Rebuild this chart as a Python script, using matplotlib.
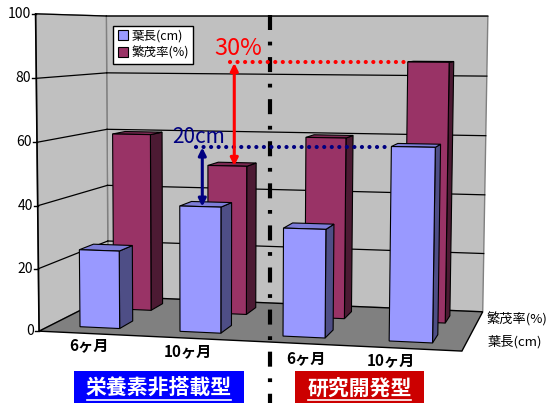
import numpy as np
import matplotlib.pyplot as plt
from matplotlib.patches import Polygon, Rectangle
from matplotlib.lines import Line2D

plt.rcParams['font.family'] = ['Noto Sans CJK JP', 'DejaVu Sans']

categories = ['6ヶ月', '10ヶ月', '6ヶ月', '10ヶ月']
series_names = ['葉長(cm)', '繁茂率(%)']
leaf_length = [25, 40, 34, 60]
growth_rate = [60, 50, 60, 85]
y_ticks = [0, 20, 40, 60, 80, 100]
groups = ['栄養素非搭載型', '研究開発型']

# the 3D box (x 0..4, depth 0..2, value 0..100) and where its corners sit on screen
box_world = np.array([[0, 0, 0], [0, 0, 100], [0, 2, 0], [0, 2, 100],
                      [4, 0, 0], [4, 0, 100], [4, 2, 0], [4, 2, 100]], float)
box_screen = np.array([[39, 328], [34, 15], [108, 299], [108, 15],
                       [463, 352], [468, 15], [482, 311], [487, 15]], float)
# where Excel put the category labels under the floor
cat_label_pos = [(89, 345), (188, 351), (306, 358), (391, 360)]


def fit_camera(world, screen):
    w = world / [4, 2, 100]
    s = screen / 550
    rows = []
    for (X, Y, Z), (u, v) in zip(w, s):
        rows.append([X, Y, Z, 1, 0, 0, 0, 0, -u * X, -u * Y, -u * Z, -u])
        rows.append([0, 0, 0, 0, X, Y, Z, 1, -v * X, -v * Y, -v * Z, -v])
    _, _, vt = np.linalg.svd(np.array(rows))
    return vt[-1].reshape(3, 4)


CAM = fit_camera(box_world, box_screen)


def proj(x, y, z):
    p = CAM @ np.array([x / 4, y / 2, z / 100, 1.0])
    return p[0] / p[2] * 550, p[1] / p[2] * 550


def face(ax, pts, fc, ec='black', lw=0.8, z=1):
    ax.add_patch(Polygon([proj(*p) for p in pts], closed=True, facecolor=fc,
                         edgecolor=ec, linewidth=lw, zorder=z))


def line3d(ax, a, b, **kw):
    pa, pb = proj(*a), proj(*b)
    ax.plot([pa[0], pb[0]], [pa[1], pb[1]], **kw)


fig = plt.figure(figsize=(5.5, 4.03), dpi=100)
ax = fig.add_axes([0, 0, 1, 1])
ax.set_xlim(0, 550)
ax.set_ylim(403, 0)
ax.axis('off')

# walls and floor
face(ax, [(0, 2, 0), (4, 2, 0), (4, 2, 100), (0, 2, 100)], '#c0c0c0', ec='#808080', lw=1)
face(ax, [(0, 0, 0), (0, 2, 0), (0, 2, 100), (0, 0, 100)], '#c0c0c0', ec='#808080', lw=1)
face(ax, [(0, 0, 0), (4, 0, 0), (4, 2, 0), (0, 2, 0)], '#808080', ec='black', lw=1)
for t in y_ticks[1:]:
    line3d(ax, (0, 0, t), (0, 2, t), color='black', lw=0.9, zorder=2)
    line3d(ax, (0, 2, t), (4, 2, t), color='black', lw=0.9, zorder=2)

# value axis
line3d(ax, (0, 0, 0), (0, 0, 100), color='black', lw=1.2, zorder=3)
for t in y_ticks:
    px, py = proj(0, 0, t)
    ax.plot([px - 4, px], [py, py], color='black', lw=1, zorder=3)
    ax.text(px - 5, py, str(t), ha='right', va='center', fontsize=10, zorder=3)

# bars: back row first, left to right
colors = [('#9999ff', '#4e4e86', '#7d7dd8'), ('#993366', '#4c1a33', '#7a2952')]
bw, bd = 0.4, 0.4
zo = 4
for row, values in [(1, growth_rate), (0, leaf_length)]:
    front, side, top = colors[row]
    for i, h in enumerate(values):
        x0, x1 = i + 0.5 - bw / 2, i + 0.5 + bw / 2
        y0, y1 = row + 0.5 - bd / 2, row + 0.5 + bd / 2
        face(ax, [(x1, y0, 0), (x1, y1, 0), (x1, y1, h), (x1, y0, h)], side, z=zo)
        face(ax, [(x0, y0, h), (x1, y0, h), (x1, y1, h), (x0, y1, h)], top, z=zo)
        face(ax, [(x0, y0, 0), (x1, y0, 0), (x1, y0, h), (x0, y0, h)], front, z=zo)
        zo += 1

# category labels
for (px, py), c in zip(cat_label_pos, categories):
    ax.text(px, py, c, ha='center', va='center', fontsize=11, fontweight='bold')

ax.text(486, 319, series_names[1], ha='left', va='center', fontsize=9.5)
ax.text(488, 342, series_names[0], ha='left', va='center', fontsize=9.5)

# group divider
ax.plot([270, 270], [15, 403], color='black', lw=3,
        linestyle=(0, (3.6, 2.8, 0.9, 2.8)), zorder=20)

# difference markers
d = bd / 2
x4l, y4 = proj(3.5 - bw / 2, 0.5 - d, leaf_length[3])
xa, ya = proj(1.5, 0.5 - d, leaf_length[1])
ax.plot([xa - 4, x4l], [y4, y4], color='#000080', lw=3,
        linestyle=(0, (0.01, 1.8)), dash_capstyle='round', zorder=21)
ax.annotate('', xy=(xa + 2, ya), xytext=(xa + 2, y4 + 1),
            arrowprops=dict(arrowstyle='<|-|>', color='#000080', lw=2.2,
                            mutation_scale=11, shrinkA=0, shrinkB=0), zorder=22)
ax.text(xa - 2, y4 - 10, '20cm', color='#000080', fontsize=15, ha='center', va='center', zorder=22)

x4b, y4b = proj(3.5 - bw / 2, 1.5 - d, growth_rate[3])
xb, yb = proj(1.5, 1.5 - d, growth_rate[1])
ax.plot([xb + 3, x4b], [y4b, y4b], color='red', lw=3,
        linestyle=(0, (0.01, 1.8)), dash_capstyle='round', zorder=21)
ax.annotate('', xy=(xb + 7, yb), xytext=(xb + 7, y4b + 1),
            arrowprops=dict(arrowstyle='<|-|>', color='red', lw=2.2,
                            mutation_scale=11, shrinkA=0, shrinkB=0), zorder=22)
ax.text(xb + 11, y4b - 13, '30%', color='red', fontsize=17, ha='center', va='center', zorder=22)

# legend
handles = [Line2D([], [], marker='s', linestyle='', markersize=7,
                  markerfacecolor=colors[k][0], markeredgecolor='black', markeredgewidth=0.8)
           for k in range(2)]
leg = ax.legend(handles, series_names, loc='upper left', bbox_to_anchor=(113 / 550, 1 - 26 / 403),
                borderaxespad=0, fontsize=9, frameon=True, fancybox=False, edgecolor='black',
                framealpha=1, borderpad=0.3, handletextpad=0.2, labelspacing=0.3, handlelength=1)
leg.get_frame().set_linewidth(1)
leg.set_zorder(30)

# group name boxes
for (x0, x1, col), name in zip([(74, 244, '#0000ff'), (295, 424, '#cc0000')], groups):
    ax.add_patch(Rectangle((x0, 371), x1 - x0, 40, facecolor=col, edgecolor='none', zorder=25))
    ax.text((x0 + x1) / 2, 388, name, color='white', fontsize=15, fontweight='bold',
            ha='center', va='center', zorder=26)
    w = len(name) * 20.6
    ax.plot([(x0 + x1) / 2 - w / 2, (x0 + x1) / 2 + w / 2], [400, 400], color='white', lw=1.2, zorder=26)

fig.savefig('out.png', dpi=100)
